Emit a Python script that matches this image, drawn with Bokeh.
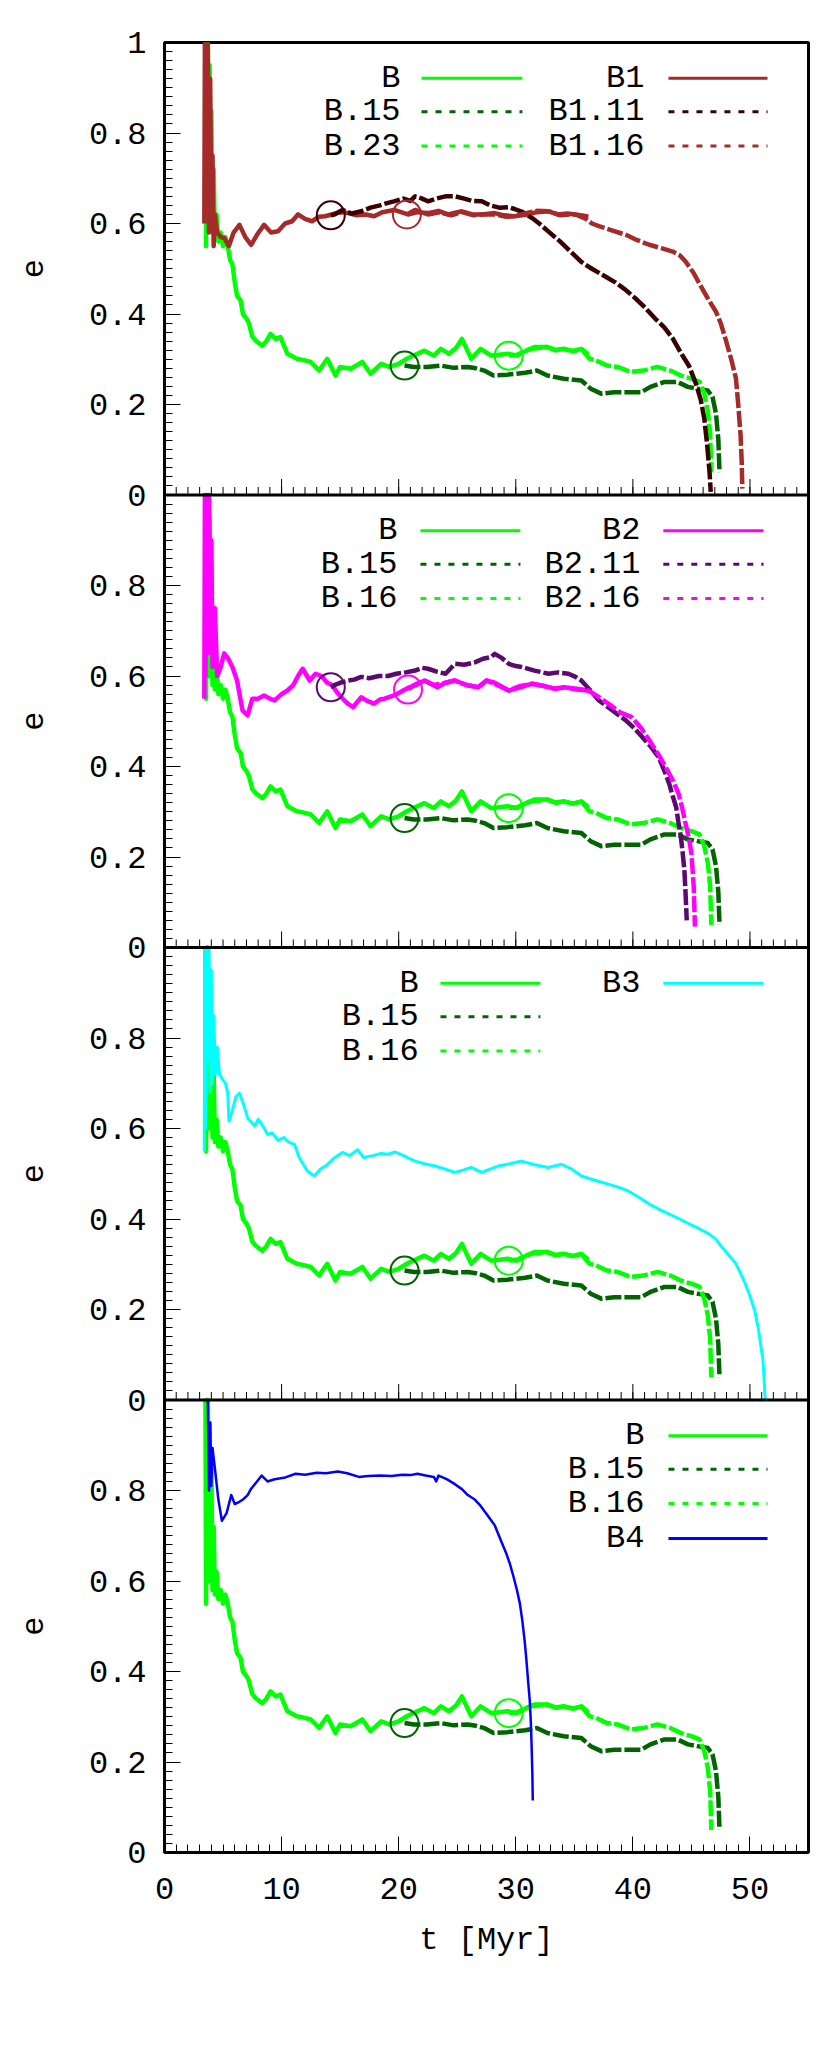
from math import pi
from bokeh.plotting import figure
from bokeh.layouts import row
from bokeh.models import Range1d, FixedTicker, Span, Label, Arrow, CustomJSTickFormatter
from bokeh.core.properties import value
from bokeh.embed import file_html
from bokeh.resources import INLINE

# ---------------- data ----------------
B_t = [3.5, 3.55, 3.6, 3.65, 3.7, 3.8, 3.85, 3.95, 4.0, 4.1, 4.2, 4.3, 4.45, 4.6, 4.8, 5.0, 5.2, 5.4, 5.6, 5.8,
       6.0, 6.2, 6.5, 6.7, 7.0, 7.2, 7.5, 7.8, 8.35, 8.7, 9.06, 9.5, 9.9, 10.5, 11.3, 11.9, 12.5, 13.2, 13.9, 14.6,
       15.0, 15.9, 16.9, 17.6, 18.5, 19.2, 20.0, 20.7, 21.4, 22.2, 23.0, 23.6, 24.3, 24.9, 25.4, 26.2, 27.0, 27.9,
       28.6, 29.3, 30.1, 30.8, 31.6, 32.7, 33.4, 34.1, 34.9, 35.6, 36.2]
B_e = [1.0, 0.55, 1.0, 0.7, 1.0, 0.6, 0.95, 0.62, 0.85, 0.58, 0.72, 0.57, 0.62, 0.56, 0.58, 0.55, 0.57, 0.55, 0.52, 0.51,
       0.47, 0.44, 0.43, 0.40, 0.39, 0.38, 0.35, 0.341, 0.33, 0.34, 0.356, 0.345, 0.349, 0.312, 0.301, 0.298, 0.294,
       0.275, 0.301, 0.264, 0.283, 0.279, 0.294, 0.268, 0.29, 0.283, 0.29, 0.301, 0.31, 0.319, 0.308, 0.323, 0.312,
       0.325, 0.345, 0.301, 0.323, 0.308, 0.31, 0.312, 0.308, 0.318, 0.327, 0.327, 0.32, 0.323, 0.318, 0.323, 0.31]

B15_t = [20.5, 21.3, 22.4, 23.6, 24.7, 25.9, 26.6, 27.3, 28.1, 29.3, 30.8, 31.8, 32.7, 34.1, 35.6, 36.4, 37.3, 38.4,
         39.8, 40.7, 41.5, 42.7, 43.8, 44.7, 45.5, 46.4, 46.8, 47.1, 47.3, 47.4]
B15_e = [0.286, 0.283, 0.283, 0.286, 0.281, 0.283, 0.28, 0.275, 0.264, 0.266, 0.27, 0.275, 0.264, 0.257, 0.253, 0.235,
         0.224, 0.227, 0.227, 0.227, 0.239, 0.25, 0.25, 0.239, 0.235, 0.231, 0.217, 0.18, 0.122, 0.05]

B23_t = [29.4, 30.1, 30.8, 31.3, 32.0, 32.7, 33.4, 34.1, 34.9, 35.6, 36.3, 36.8, 37.8, 38.7, 39.8, 40.9, 42.1, 43.2,
         44.1, 45.0, 45.7, 46.1, 46.4, 46.6, 46.7]
B23_e = [0.308, 0.31, 0.318, 0.323, 0.325, 0.327, 0.32, 0.323, 0.318, 0.323, 0.301, 0.298, 0.286, 0.283, 0.272, 0.275,
         0.283, 0.275, 0.264, 0.257, 0.25, 0.224, 0.187, 0.136, 0.05]
B16_t = B23_t
B16_e = B23_e

B1_t = [3.4, 3.45, 3.5, 3.55, 3.6, 3.7, 3.8, 3.9, 4.0, 4.1, 4.2, 4.3, 4.5, 4.8, 5.1, 5.5, 5.9, 6.4, 6.9, 7.4, 7.9,
        8.5, 9.1, 9.7, 10.3, 10.9, 11.4, 12.0, 12.6, 13.2, 13.7, 14.3, 15.0, 15.7, 16.4, 17.2, 17.9, 18.6, 19.6,
        20.2, 20.8, 21.6, 22.5, 23.4, 24.2, 25.4, 26.3, 27.1, 28.2, 29.0, 29.9, 31.0, 31.8, 32.8, 33.6, 34.4, 35.1,
        35.8, 36.2]
B1_e = [0.6, 1.0, 0.62, 1.0, 0.7, 1.0, 0.58, 0.92, 0.6, 0.75, 0.55, 0.62, 0.58, 0.57, 0.568, 0.55, 0.58, 0.597, 0.57,
        0.553, 0.575, 0.597, 0.58, 0.583, 0.6, 0.605, 0.62, 0.61, 0.605, 0.615, 0.616, 0.62, 0.625, 0.623, 0.618, 0.62,
        0.616, 0.625, 0.63, 0.625, 0.62, 0.625, 0.623, 0.628, 0.62, 0.627, 0.62, 0.62, 0.623, 0.618, 0.616, 0.62, 0.625,
        0.627, 0.62, 0.622, 0.62, 0.617, 0.615]

B1_16_t = [20.7, 21.4, 22.5, 23.5, 24.5, 25.4, 26.4, 27.1, 28.2, 29.2, 29.9, 30.8, 31.8, 32.8, 33.8, 34.6, 35.1, 36.0,
           36.5, 37.1, 38.2, 39.4, 40.2, 41.4, 42.5, 43.4, 44.0, 44.5, 45.2, 45.9, 46.5, 47.1, 47.5, 47.9, 48.4, 48.8,
           49.0, 49.2, 49.3, 49.35]
B1_16_e = [0.62, 0.63, 0.62, 0.625, 0.618, 0.625, 0.618, 0.62, 0.62, 0.615, 0.616, 0.622, 0.628, 0.627, 0.618, 0.62,
           0.62, 0.61, 0.60, 0.594, 0.585, 0.575, 0.565, 0.553, 0.545, 0.538, 0.53, 0.516, 0.49, 0.457, 0.43, 0.405, 0.38,
           0.346, 0.3, 0.258, 0.2, 0.132, 0.07, 0.014]

B1_11_t = [14.2, 14.5, 15.2, 16.0, 16.8, 17.6, 18.4, 19.0, 19.6, 20.4, 21.0, 21.4, 22.0, 22.5, 23.2, 24.0, 24.8, 25.6,
           26.3, 27.1, 27.8, 28.6, 29.4, 29.9, 30.6, 31.4, 32.0, 32.8, 33.8, 34.8, 35.6, 36.5, 37.5, 38.5, 39.3, 40.2,
           41.0, 41.9, 42.7, 43.4, 44.2, 44.8, 45.4, 45.8, 46.1, 46.35, 46.55, 46.65]
B1_11_e = [0.618, 0.62, 0.63, 0.622, 0.627, 0.635, 0.64, 0.645, 0.649, 0.655, 0.65, 0.66, 0.655, 0.649, 0.655, 0.66,
           0.66, 0.655, 0.65, 0.649, 0.64, 0.635, 0.636, 0.632, 0.625, 0.612, 0.6, 0.582, 0.56, 0.535, 0.515, 0.5, 0.485,
           0.47, 0.455, 0.435, 0.415, 0.39, 0.37, 0.346, 0.31, 0.285, 0.245, 0.21, 0.169, 0.11, 0.05, 0.007]

B2_t = [3.4, 3.45, 3.5, 3.6, 3.7, 3.8, 3.9, 4.0, 4.1, 4.3, 4.5, 4.8, 5.1, 5.4, 5.8, 6.2, 6.66, 7.1, 7.5, 8.0, 8.5,
        9.0, 9.4, 10.0, 10.5, 11.0, 11.4, 11.8, 12.4, 12.9, 13.4, 13.9, 14.3, 14.7, 15.1, 15.6, 16.1, 16.8, 17.3,
        17.9, 18.4, 18.8, 19.6, 20.2, 20.9, 21.5, 22.2, 23.3, 24.0, 24.8, 25.8, 26.8, 27.5, 28.2, 29.4, 30.4, 31.4,
        32.4, 33.3, 34.2, 35.2, 36.2]
B2_e = [0.55, 1.0, 0.6, 1.0, 0.65, 1.0, 0.7, 0.9, 0.62, 0.75, 0.6, 0.62, 0.65, 0.64, 0.62, 0.59, 0.524, 0.513, 0.55,
        0.55, 0.557, 0.55, 0.546, 0.56, 0.568, 0.58, 0.6, 0.616, 0.59, 0.605, 0.60, 0.585, 0.58, 0.565, 0.553, 0.54,
        0.531, 0.553, 0.545, 0.539, 0.548, 0.55, 0.557, 0.565, 0.575, 0.58, 0.59, 0.575, 0.585, 0.59, 0.58, 0.575,
        0.59, 0.585, 0.568, 0.575, 0.583, 0.578, 0.572, 0.575, 0.57, 0.568]

B2_16_t = [20.8, 21.3, 22.2, 23.0, 24.0, 24.8, 25.8, 26.8, 27.5, 28.4, 29.4, 30.4, 31.4, 32.4, 33.3, 34.2, 35.2, 36.2,
           37.0, 37.9, 38.9, 39.9, 40.7, 41.4, 42.1, 42.8, 43.4, 43.9, 44.2, 44.5, 44.8, 45.0, 45.2, 45.3]
B2_16_e = [0.57, 0.58, 0.59, 0.58, 0.585, 0.59, 0.58, 0.575, 0.59, 0.58, 0.568, 0.578, 0.583, 0.578, 0.572, 0.575,
           0.572, 0.568, 0.555, 0.539, 0.52, 0.509, 0.485, 0.458, 0.43, 0.399, 0.37, 0.34, 0.31, 0.274, 0.24, 0.208,
           0.134, 0.046]

B2_11_t = [14.2, 14.5, 15.0, 15.7, 16.2, 16.8, 17.5, 18.3, 19.1, 19.8, 20.6, 21.4, 22.0, 22.5, 23.2, 24.0, 24.8, 25.6,
           26.5, 27.2, 27.9, 28.2, 28.8, 29.4, 30.0, 30.5, 31.6, 32.8, 33.6, 34.5, 35.1, 35.6, 36.3, 37.1, 38.2, 39.4,
           40.1, 40.8, 41.5, 42.2, 42.7, 43.1, 43.4, 43.7, 43.9, 44.1, 44.25, 44.4, 44.5, 44.6]
B2_11_e = [0.575, 0.58, 0.585, 0.59, 0.592, 0.598, 0.595, 0.60, 0.60, 0.605, 0.608, 0.612, 0.618, 0.616, 0.61, 0.605,
           0.627, 0.625, 0.63, 0.638, 0.642, 0.649, 0.64, 0.627, 0.622, 0.62, 0.612, 0.605, 0.608, 0.605, 0.598, 0.59,
           0.57, 0.546, 0.525, 0.502, 0.485, 0.465, 0.445, 0.421, 0.39, 0.362, 0.335, 0.31, 0.275, 0.244, 0.21, 0.171,
           0.12, 0.06]

B3_t = [3.4, 3.45, 3.5, 3.6, 3.7, 3.8, 3.9, 4.0, 4.1, 4.2, 4.35, 4.5, 4.7, 4.9, 5.2, 5.4, 5.5, 5.8, 6.1, 6.4, 6.8,
        7.1, 7.4, 7.7, 8.0, 8.3, 8.8, 9.2, 9.7, 10.2, 10.6, 11.1, 11.5, 12.2, 12.8, 13.3, 13.9, 14.5, 15.2, 15.8,
        16.5, 17.0, 17.8, 18.5, 19.1, 19.7, 20.2, 20.8, 21.4, 22.2, 23.1, 24.0, 24.8, 25.5, 26.2, 27.1, 27.8, 28.5,
        29.5, 30.5, 31.6, 32.8, 33.9, 34.8, 35.6, 36.8, 37.9, 38.8, 39.6, 40.5, 41.4, 42.2, 43.1, 44.0, 44.8, 45.7,
        46.5, 47.1, 47.6, 48.2, 48.8, 49.2, 49.6, 50.0, 50.4, 50.7, 50.9, 51.1, 51.2, 51.3]
B3_e = [0.55, 1.0, 0.6, 1.0, 0.75, 1.0, 0.68, 0.95, 0.7, 0.85, 0.72, 0.78, 0.72, 0.711, 0.7, 0.68, 0.616, 0.64, 0.67,
        0.678, 0.65, 0.623, 0.615, 0.605, 0.62, 0.61, 0.587, 0.59, 0.574, 0.58, 0.57, 0.565, 0.536, 0.506, 0.495, 0.51,
        0.52, 0.535, 0.547, 0.54, 0.553, 0.536, 0.54, 0.545, 0.543, 0.548, 0.543, 0.535, 0.528, 0.522, 0.517, 0.51,
        0.503, 0.508, 0.514, 0.503, 0.51, 0.517, 0.522, 0.528, 0.52, 0.514, 0.521, 0.51, 0.495, 0.485, 0.477, 0.47,
        0.462, 0.448, 0.433, 0.422, 0.411, 0.4, 0.389, 0.378, 0.367, 0.355, 0.338, 0.32, 0.301, 0.28, 0.257, 0.23,
        0.198, 0.16, 0.125, 0.09, 0.05, 0.0]

B4_t = [3.7, 3.8, 3.9, 4.0, 4.1, 4.3, 4.6, 4.9, 5.3, 5.7, 6.0, 6.4, 6.7, 7.1, 7.4, 7.9, 8.3, 8.8, 9.4, 10.2, 11.2,
        12.0, 13.0, 13.8, 14.8, 15.6, 16.6, 17.4, 18.4, 19.4, 20.3, 21.0, 21.6, 22.3, 23.0, 23.2, 23.4, 24.1, 24.8,
        25.4, 25.9, 26.5, 27.0, 27.6, 28.2, 28.8, 29.2, 29.5, 29.8, 30.1, 30.35, 30.55, 30.75, 30.9, 31.05, 31.2,
        31.3, 31.36, 31.42, 31.45]
B4_e = [1.0, 0.8, 0.95, 0.81, 0.894, 0.85, 0.78, 0.733, 0.75, 0.79, 0.77, 0.775, 0.78, 0.79, 0.804, 0.82, 0.833, 0.82,
        0.825, 0.828, 0.837, 0.835, 0.839, 0.838, 0.842, 0.838, 0.83, 0.832, 0.833, 0.832, 0.835, 0.834, 0.837, 0.833,
        0.83, 0.82, 0.833, 0.825, 0.814, 0.803, 0.79, 0.78, 0.766, 0.745, 0.723, 0.685, 0.66, 0.638, 0.61, 0.58, 0.55,
        0.514, 0.47, 0.428, 0.38, 0.334, 0.28, 0.229, 0.17, 0.115]

x_major_ticks = [0, 10, 20, 30, 40, 50]
x_minor_ticks = list(range(0, 56))
e_major_ticks = [0.0, 0.2, 0.4, 0.6, 0.8, 1.0]
panel_ylabels = ["e", "e", "e", "e"]

# ---------------- styles ----------------
C_B = "#00ff00"
C_B15 = "#006400"
C_B1 = "#a52a2a"
C_B111 = "#3a0000"
C_B2 = "#ff00ff"
C_B211 = "#5a0a6e"
C_B3 = "#00ffff"
C_B4 = "#0000ff"
FONT = "Liberation Mono"
FS = "32px"
DASH_PLOT = "16 3"
DASH_KEY = "6 8"
LW = 4.5

NPAN = 4
TOP = 42
FRAME_H = 1810
BOTTOM = 180
LBL_W = 64

p = figure(frame_width=644, frame_height=FRAME_H, x_range=Range1d(0, 55), y_range=Range1d(0, NPAN),
           output_backend="svg", toolbar_location=None,
           min_border_left=164 - LBL_W, min_border_right=6, min_border_top=TOP, min_border_bottom=BOTTOM)
p.extra_y_ranges = {f"p{k}": Range1d(-(NPAN - k), k) for k in range(1, NPAN + 1)}
p.grid.visible = False
p.outline_line_color = "black"
p.outline_line_width = 3
p.outline_line_alpha = 1.0
p.background_fill_color = "white"
p.border_fill_color = "white"

xa = p.xaxis[0]
xa.ticker = FixedTicker(ticks=x_major_ticks, minor_ticks=x_minor_ticks)
xa.axis_line_color = None
for ax in (xa, p.yaxis[0]):
    ax.major_tick_in = 16
    ax.major_tick_out = 0
    ax.minor_tick_in = 8
    ax.minor_tick_out = 0
    ax.major_tick_line_color = "black"
    ax.minor_tick_line_color = "black"
    ax.major_tick_line_width = 1
    ax.minor_tick_line_width = 1
    ax.major_label_text_font = FONT
    ax.major_label_text_font_size = FS
    ax.major_label_text_color = "black"
xa.major_label_standoff = 25
p.yaxis[0].major_label_standoff = 18
xa.axis_label = "t [Myr]"
xa.axis_label_text_font = FONT
xa.axis_label_text_font_size = FS
xa.axis_label_text_font_style = "normal"
xa.axis_label_text_color = "black"
xa.axis_label_standoff = 20

ya = p.yaxis[0]
ya.axis_line_color = None
ymaj = sorted({round(k + v, 6) for k in range(NPAN) for v in e_major_ticks})
ymin = [round(i * 0.02, 6) for i in range(0, NPAN * 50 + 1)]
ya.ticker = FixedTicker(ticks=ymaj, minor_ticks=ymin)
ya.formatter = CustomJSTickFormatter(code="""
    if (tick > %d - 0.001) { return '1'; }
    const v = Math.round((tick - Math.floor(tick + 1e-6)) * 10) / 10;
    return v < 0.05 ? '0' : v.toFixed(1);
""" % NPAN)

for k in range(1, NPAN):
    p.add_layout(Span(location=k, dimension="width", line_color="black", line_width=3))
    rn = f"p{k}"
    p.ray(x=x_major_ticks, y=[0] * len(x_major_ticks), length=16, length_units="screen", angle=pi / 2,
          line_color="black", line_width=1, y_range_name=rn)
    p.ray(x=x_minor_ticks, y=[0] * len(x_minor_ticks), length=8, length_units="screen", angle=pi / 2,
          line_color="black", line_width=1, y_range_name=rn)


def curve(t, e, color, rn, dash=None, width=LW, circle=False):
    kw = dict(line_color=color, line_width=width, y_range_name=rn, line_join="round")
    if dash:
        kw["line_dash"] = dash
    p.line(t, e, **kw)
    if circle:
        p.scatter(x=[t[0]], y=[e[0]], marker="circle", size=28, fill_color=None, line_color=color,
                  line_width=2, y_range_name=rn)


def key(rn, xr, x0, x1, ye, name, color, dash=None):
    p.add_layout(Label(x=xr, y=ye, y_range_name=rn, text=name, text_align="right", text_baseline="middle",
                       text_font=FONT, text_font_size=FS, text_color="black"))
    kw = dict(end=None, x_start=x0, y_start=ye, x_end=x1, y_end=ye, line_color=color, line_width=3,
              y_range_name=rn)
    if dash:
        kw["line_dash"] = dash
    p.add_layout(Arrow(**kw))


ROWS = [0.921, 0.847, 0.771, 0.694]


def base(rn):
    curve(B_t, B_e, C_B, rn)
    curve(B15_t, B15_e, C_B15, rn, DASH_PLOT, circle=True)
    curve(B23_t, B23_e, C_B, rn, DASH_PLOT, circle=True)


# panel 1
base("p1")
curve(B1_t, B1_e, C_B1, "p1")
curve(B1_11_t, B1_11_e, C_B111, "p1", DASH_PLOT, circle=True)
curve(B1_16_t, B1_16_e, C_B1, "p1", DASH_PLOT, circle=True)
for i, (nm, c, d) in enumerate([("B", C_B, None), ("B.15", C_B15, DASH_KEY), ("B.23", C_B, DASH_KEY)]):
    key("p1", 20.16, 21.95, 30.57, ROWS[i], nm, c, d)
for i, (nm, c, d) in enumerate([("B1", C_B1, None), ("B1.11", C_B111, DASH_KEY), ("B1.16", C_B1, DASH_KEY)]):
    key("p1", 40.99, 43.04, 51.5, ROWS[i], nm, c, d)

# panel 2
base("p2")
curve(B2_t, B2_e, C_B2, "p2")
curve(B2_11_t, B2_11_e, C_B211, "p2", DASH_PLOT, circle=True)
curve(B2_16_t, B2_16_e, C_B2, "p2", DASH_PLOT, circle=True)
for i, (nm, c, d) in enumerate([("B", C_B, None), ("B.15", C_B15, DASH_KEY), ("B.16", C_B, DASH_KEY)]):
    key("p2", 19.9, 21.86, 30.4, ROWS[i], nm, c, d)
for i, (nm, c, d) in enumerate([("B2", C_B2, None), ("B2.11", C_B211, DASH_KEY), ("B2.16", C_B2, DASH_KEY)]):
    key("p2", 40.65, 42.6, 51.16, ROWS[i], nm, c, d)

# panel 3
base("p3")
curve(B3_t, B3_e, C_B3, "p3", width=3)
for i, (nm, c, d) in enumerate([("B", C_B, None), ("B.15", C_B15, DASH_KEY), ("B.16", C_B, DASH_KEY)]):
    key("p3", 21.7, 23.57, 32.1, ROWS[i], nm, c, d)
key("p3", 40.65, 42.6, 51.16, ROWS[0], "B3", C_B3, None)

# panel 4
base("p4")
curve(B4_t, B4_e, C_B4, "p4", width=2.5)
for i, (nm, c, d) in enumerate([("B", C_B, None), ("B.15", C_B15, DASH_KEY), ("B.16", C_B, DASH_KEY),
                                 ("B4", C_B4, None)]):
    key("p4", 40.99, 43.04, 51.5, ROWS[i], nm, c, d)

# left strip carrying the rotated "e" label of each panel
lab = figure(frame_width=LBL_W, frame_height=FRAME_H, x_range=Range1d(0, 1), y_range=Range1d(0, NPAN),
             output_backend="svg", toolbar_location=None,
             min_border_left=0, min_border_right=0, min_border_top=TOP, min_border_bottom=BOTTOM)
lab.axis.visible = False
lab.grid.visible = False
lab.outline_line_color = None
lab.background_fill_color = "white"
lab.border_fill_color = "white"
lab.text(x=[0.5] * NPAN, y=[k + 0.5 for k in range(NPAN)], text=panel_ylabels, angle=pi / 2,
         text_align="center", text_baseline="middle", text_font=value(FONT), text_font_size=value(FS),
         text_color="black")

layout = row(lab, p, spacing=0)
open("out.html", "w").write(file_html(layout, INLINE))
